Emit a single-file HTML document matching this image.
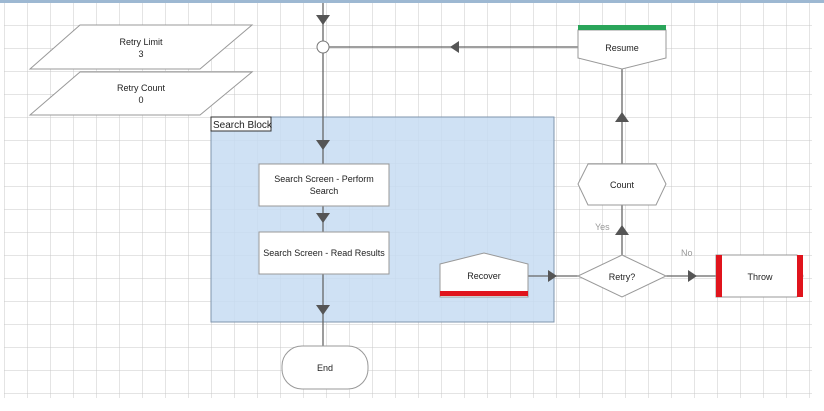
<!DOCTYPE html>
<html><head><style>
body{margin:0;background:#fff;}
svg{display:block;font-family:"Liberation Sans",sans-serif;}
</style></head><body>
<svg width="824" height="411" viewBox="0 0 824 411" xmlns="http://www.w3.org/2000/svg">
<defs>
<pattern id="g" x="4" y="2" width="23" height="23" patternUnits="userSpaceOnUse">
<path d="M0 0H23M0 0V23" stroke="#c8c8c8" stroke-width="1" fill="none"/>
</pattern>
</defs>
<rect x="0" y="0" width="824" height="411" fill="#fff"/>
<rect x="4" y="2" width="808" height="396" fill="url(#g)"/>
<rect x="0" y="0" width="824" height="3" fill="#9db8d2"/>
<!-- search block -->
<rect x="211" y="117" width="343" height="205" fill="#c7dcf2" fill-opacity="0.85" stroke="#7f95ad"/>
<rect x="211" y="117" width="60" height="14" fill="#fff" stroke="#333"/>
<text x="213" y="128" font-size="10" fill="#222">Search Block</text>
<!-- parallelograms -->
<polygon points="80,25 252,25 200,69 30,69" fill="#fff" stroke="#999"/>
<text x="141" y="45" font-size="9" text-anchor="middle" fill="#222">Retry Limit</text>
<text x="141" y="57" font-size="9" text-anchor="middle" fill="#222">3</text>
<polygon points="80,72 252,72 200,115 30,115" fill="#fff" stroke="#999"/>
<text x="141" y="91" font-size="9" text-anchor="middle" fill="#222">Retry Count</text>
<text x="141" y="103" font-size="9" text-anchor="middle" fill="#222">0</text>
<!-- main lines -->
<g stroke="#666" stroke-width="1.3" fill="none">
<line x1="323" y1="3" x2="323" y2="346"/>
<line x1="329" y1="47" x2="578" y2="47"/>
<line x1="622" y1="69" x2="622" y2="164"/>
<line x1="622" y1="205" x2="622" y2="255"/>
<line x1="528" y1="276" x2="578" y2="276"/>
<line x1="666" y1="276" x2="716" y2="276"/>
</g>
<g fill="#555">
<polygon points="316,15 330,15 323,25"/>
<polygon points="316,140 330,140 323,150"/>
<polygon points="316,213 330,213 323,223"/>
<polygon points="316,305 330,305 323,315"/>
<polygon points="450,47 459,41 459,53"/>
<polygon points="615,122 629,122 622,112"/>
<polygon points="615,235 629,235 622,225"/>
<polygon points="557,276 548,270 548,282"/>
<polygon points="697,276 688,270 688,282"/>
</g>
<circle cx="323" cy="47" r="6" fill="#fff" stroke="#777"/>
<!-- resume -->
<polygon points="578,30 666,30 666,58 622,69 578,58" fill="#fff" stroke="#999"/>
<rect x="578" y="25" width="88" height="5" fill="#2aa55a"/>
<text x="622" y="51" font-size="9" text-anchor="middle" fill="#222">Resume</text>
<!-- count -->
<polygon points="588,164 656,164 666,184 656,205 588,205 578,184" fill="#fff" stroke="#999"/>
<text x="622" y="188" font-size="9" text-anchor="middle" fill="#222">Count</text>
<text x="595" y="230" font-size="9" fill="#999">Yes</text>
<text x="681" y="256" font-size="9" fill="#999">No</text>
<!-- retry -->
<polygon points="622,255 666,276 622,297 578,276" fill="#fff" stroke="#999"/>
<text x="622" y="280" font-size="9" text-anchor="middle" fill="#222">Retry?</text>
<!-- throw -->
<polygon points="716,255 797,255 803,276 797,297 716,297" fill="#fff" stroke="#999"/>
<rect x="716" y="255" width="6" height="42" fill="#e0141c"/>
<rect x="797" y="255" width="6" height="42" fill="#e0141c"/>
<text x="760" y="280" font-size="9" text-anchor="middle" fill="#222">Throw</text>
<!-- recover -->
<polygon points="440,264 484,253 528,264 528,297 440,297" fill="#fff" stroke="#999"/>
<rect x="440" y="291" width="88" height="5" fill="#e0141c"/>
<text x="484" y="279" font-size="9" text-anchor="middle" fill="#222">Recover</text>
<!-- boxes -->
<rect x="259" y="164" width="130" height="42" fill="#fff" stroke="#999"/>
<text x="324" y="182" font-size="9" text-anchor="middle" fill="#222">Search Screen - Perform</text>
<text x="324" y="194" font-size="9" text-anchor="middle" fill="#222">Search</text>
<rect x="259" y="232" width="130" height="42" fill="#fff" stroke="#999"/>
<text x="324" y="256" font-size="9" text-anchor="middle" fill="#222">Search Screen - Read Results</text>
<!-- end -->
<rect x="282" y="346" width="86" height="43" rx="20" fill="#fff" stroke="#999"/>
<text x="325" y="371" font-size="9" text-anchor="middle" fill="#222">End</text>
</svg>
</body></html>
